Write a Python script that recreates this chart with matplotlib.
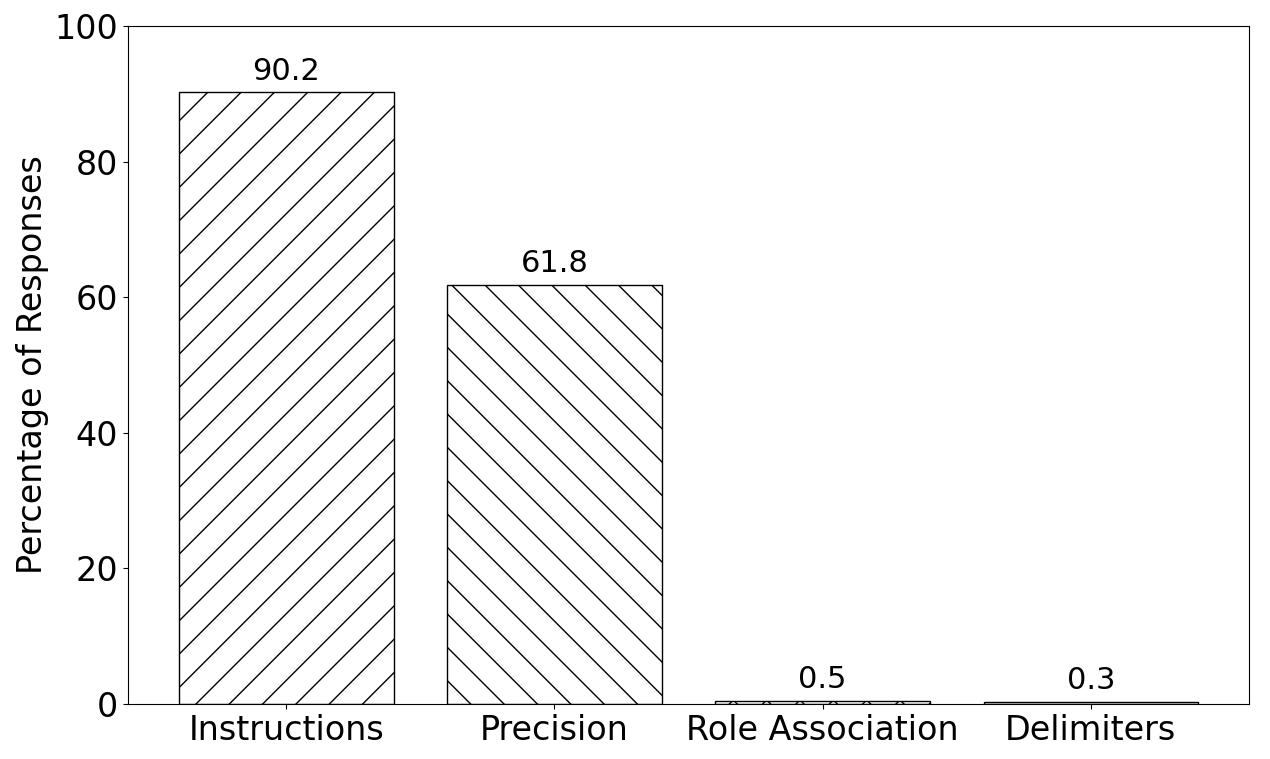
import matplotlib
matplotlib.use("Agg")
import matplotlib.pyplot as plt

categories = ["Instructions", "Precision", "Role Association", "Delimiters"]
values = [90.2, 61.8, 0.5, 0.3]
hatches = ["/", "\\", "x", "-"]

fig, ax = plt.subplots(figsize=(12.7, 7.59), dpi=100)
fig.subplots_adjust(left=0.1008, right=0.9835, top=0.9657, bottom=0.0725)
bars = ax.bar(categories, values, color="white", edgecolor="black", width=0.8)
for b, h in zip(bars, hatches):
    b.set_hatch(h)
for b, v in zip(bars, values):
    ax.text(b.get_x() + b.get_width() / 2, v + 1, f"{v}", ha="center", va="bottom", fontsize=22)
ax.set_ylim(0, 100)
ax.set_ylabel("Percentage of Responses", fontsize=24)
ax.tick_params(axis="both", labelsize=24)
fig.savefig("out.png")
